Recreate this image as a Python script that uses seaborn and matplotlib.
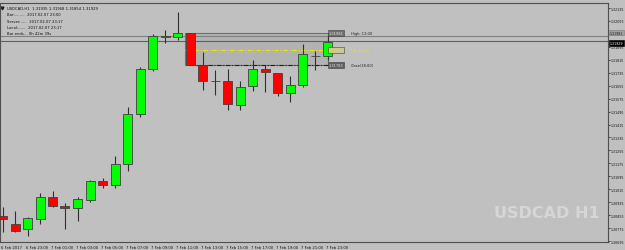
import matplotlib
matplotlib.use("Agg")
import matplotlib.pyplot as plt
import seaborn as sns
import pandas as pd
from matplotlib.patches import Rectangle

# ---------------- data ----------------
times = ["6 Feb 21:00", "6 Feb 22:00", "6 Feb 23:00", "7 Feb 00:00", "7 Feb 01:00",
         "7 Feb 02:00", "7 Feb 03:00", "7 Feb 04:00", "7 Feb 05:00", "7 Feb 06:00",
         "7 Feb 07:00", "7 Feb 08:00", "7 Feb 09:00", "7 Feb 10:00", "7 Feb 11:00",
         "7 Feb 12:00", "7 Feb 13:00", "7 Feb 14:00", "7 Feb 15:00", "7 Feb 16:00",
         "7 Feb 17:00", "7 Feb 18:00", "7 Feb 19:00", "7 Feb 20:00", "7 Feb 21:00",
         "7 Feb 22:00", "7 Feb 23:00"]
opens = [1.30850, 1.30800, 1.30769, 1.30831, 1.30967, 1.30911, 1.30899, 1.30948, 1.31066,
         1.31041, 1.31171, 1.31480, 1.31758, 1.31956, 1.31956, 1.31981, 1.31783, 1.31684,
         1.31684, 1.31536, 1.31653, 1.31758, 1.31733, 1.31610, 1.31659, 1.31838, 1.31838]
highs = [1.30905, 1.30880, 1.30843, 1.30992, 1.31004, 1.30930, 1.30967, 1.31072, 1.31084,
         1.31220, 1.31523, 1.31770, 1.31974, 1.31999, 1.32110, 1.31981, 1.31863, 1.31752,
         1.31758, 1.31684, 1.31814, 1.31783, 1.31733, 1.31715, 1.31913, 1.31869, 1.31968]
lows = [1.30751, 1.30751, 1.30726, 1.30800, 1.30905, 1.30769, 1.30819, 1.30936, 1.31023,
        1.31023, 1.31128, 1.31461, 1.31746, 1.31919, 1.31937, 1.31783, 1.31628, 1.31597,
        1.31505, 1.31505, 1.31622, 1.31616, 1.31591, 1.31554, 1.31647, 1.31752, 1.31814]
closes = [1.30831, 1.30757, 1.30837, 1.30967, 1.30911, 1.30899, 1.30955, 1.31066, 1.31041,
          1.31171, 1.31480, 1.31758, 1.31962, 1.31959, 1.31981, 1.31783, 1.31684, 1.31686,
          1.31542, 1.31647, 1.31758, 1.31739, 1.31610, 1.31659, 1.31851, 1.31838, 1.31925]

price_ticks = [1.32135, 1.32055, 1.31975, 1.31895, 1.31815, 1.31735, 1.31655, 1.31575,
               1.31495, 1.31415, 1.31335, 1.31255, 1.31175, 1.31095, 1.31015, 1.30935,
               1.30855, 1.30775, 1.30695]
time_tick_index = [0, 2, 4, 6, 8, 10, 12, 14, 16, 18, 20, 22, 24, 26]
time_tick_labels = ["6 Feb 2017", "6 Feb 23:00", "7 Feb 01:00", "7 Feb 03:00", "7 Feb 05:00",
                    "7 Feb 07:00", "7 Feb 09:00", "7 Feb 11:00", "7 Feb 13:00", "7 Feb 15:00",
                    "7 Feb 17:00", "7 Feb 19:00", "7 Feb 21:00", "7 Feb 23:00"]

ask_line = 1.31962
bid_line = 1.31929
ask_label = 1.31981
box_start, box_end = 14.6, 26.0
box_high, box_low, box_mid = 1.31981, 1.31783, 1.31877

info_lines = ["USDCAD,H1  1.31935 1.31968 1.31854 1.31929",
              "Bar:........  2017.02.07 23:00",
              "Server:.....  2017.02.07 23:17",
              "Local:......  2017.02.07 23:17",
              "Bar ends... 0h 42m 39s"]

# ---------------- style ----------------
sns.set_theme(style="white")
plt.rcParams['font.family'] = ['DejaVu Sans']
BG = "#c0c0c0"
df = pd.DataFrame({"t": times, "o": opens, "h": highs, "l": lows, "c": closes})
df["i"] = range(len(df))
df["up"] = df["c"] >= df["o"]

fig = plt.figure(figsize=(6.25, 2.51), dpi=100, facecolor=BG)
ax = fig.add_axes([0.0, 8 / 251, 608 / 625, 239 / 251])
ax.set_facecolor(BG)

# range box
ax.add_patch(Rectangle((box_start, box_low), box_end - box_start, box_high - box_low,
                       facecolor="#b2b2b2", edgecolor="#707070", lw=0.8, zorder=1))
ax.plot([box_start + 0.4, box_end], [box_low, box_low], color="#202020", lw=0.8,
        ls=(0, (4, 1.5, 1, 1.5)), zorder=2)
ax.plot([box_start, box_end], [box_mid, box_mid], color="#e8e800", lw=0.8,
        ls=(0, (4, 1.5, 1, 1.5)), zorder=2)

# ask / bid lines
ax.axhline(ask_line, color="#808080", lw=0.8, zorder=1)
ax.axhline(bid_line, color="#606060", lw=0.8, zorder=1)

# wicks
ax.vlines(df["i"], df["l"], df["h"], color="#303030", lw=0.8, zorder=3)
# bodies
bot = df[["o", "c"]].min(axis=1)
height = (df["c"] - df["o"]).abs().clip(lower=0.000012)
colors = ["#00ff00" if u else "#ff0000" for u in df["up"]]
ax.bar(df["i"], height, bottom=bot, width=0.72, color=colors, edgecolor="#404040",
       linewidth=0.6, zorder=4)

ax.set_xlim(-0.2, 48.44)
ax.set_ylim(1.30689, 1.32166)

# right price axis
ax.yaxis.tick_right()
ax.set_yticks(price_ticks)
ax.set_yticklabels([f"{v:.5f}" for v in price_ticks], fontsize=2.3, color="#101010")
ax.tick_params(axis="y", direction="out", length=1.5, width=0.5, pad=0.6, colors="#101010")
ax.set_xticks(time_tick_index)
ax.set_xticklabels([])
ax.tick_params(axis="x", direction="out", length=2, width=0.5, colors="#101010")
for i, lab in zip(time_tick_index, time_tick_labels):
    ax.text(i - 0.12, -0.012, lab, transform=ax.get_xaxis_transform(), fontsize=2.7,
            ha="left", va="top", color="#101010")

for s in ax.spines.values():
    s.set_color("#505050")
    s.set_linewidth(0.8)

# price labels on axis
ax.text(1.003, ask_label, f"{ask_label:.5f}", transform=ax.get_yaxis_transform(),
        fontsize=2.3, va="center", ha="left", color="#202020",
        bbox=dict(boxstyle="square,pad=0.15", fc="#a0a0a0", ec="#808080", lw=0.4))
ax.text(1.003, bid_line - 0.0001, f"{bid_line:.5f}", transform=ax.get_yaxis_transform(),
        fontsize=2.3, va="center", ha="left", color="white",
        bbox=dict(boxstyle="square,pad=0.2", fc="black", ec="black", lw=0.4))

# box labels
for y, lab, note, fc, tc in [(box_high, f"{box_high:.5f}", "High: 13:00", "#707070", "#e0e0e0"),
                             (box_mid, f"{box_mid:.5f}", "Fib: 12:00", "#c8c890", "#e8e800"),
                             (box_low, f"{box_low:.5f}", "Close(18:00)", "#606060", "#e0e0e0")]:
    ax.text(box_end + 0.1, y, lab, fontsize=2.6, va="center", ha="left", color=tc,
            bbox=dict(boxstyle="square,pad=0.25", fc=fc, ec="#404040", lw=0.4), zorder=5)
    ax.text(box_end + 1.85, y, note, fontsize=2.6, va="center", ha="left",
            color="#e8e800" if "Fib" in note else "#202020", zorder=5)

# info text
for k, line in enumerate(info_lines):
    ax.text(0.012, 0.987 - k * 0.026, line, transform=ax.transAxes, fontsize=2.7,
            va="top", ha="left", color="#101010")
ax.plot([0.004], [0.979], marker="v", ms=2, color="#202020", transform=ax.transAxes)

# watermark
ax.text(0.9, 0.125, "USDCAD H1", transform=ax.transAxes, fontsize=11.5,
        family=["DejaVu Sans"], fontweight="bold",
        color="#d6d6d6", ha="center", va="center", zorder=0)

fig.savefig("out.png", dpi=100, facecolor=BG)
